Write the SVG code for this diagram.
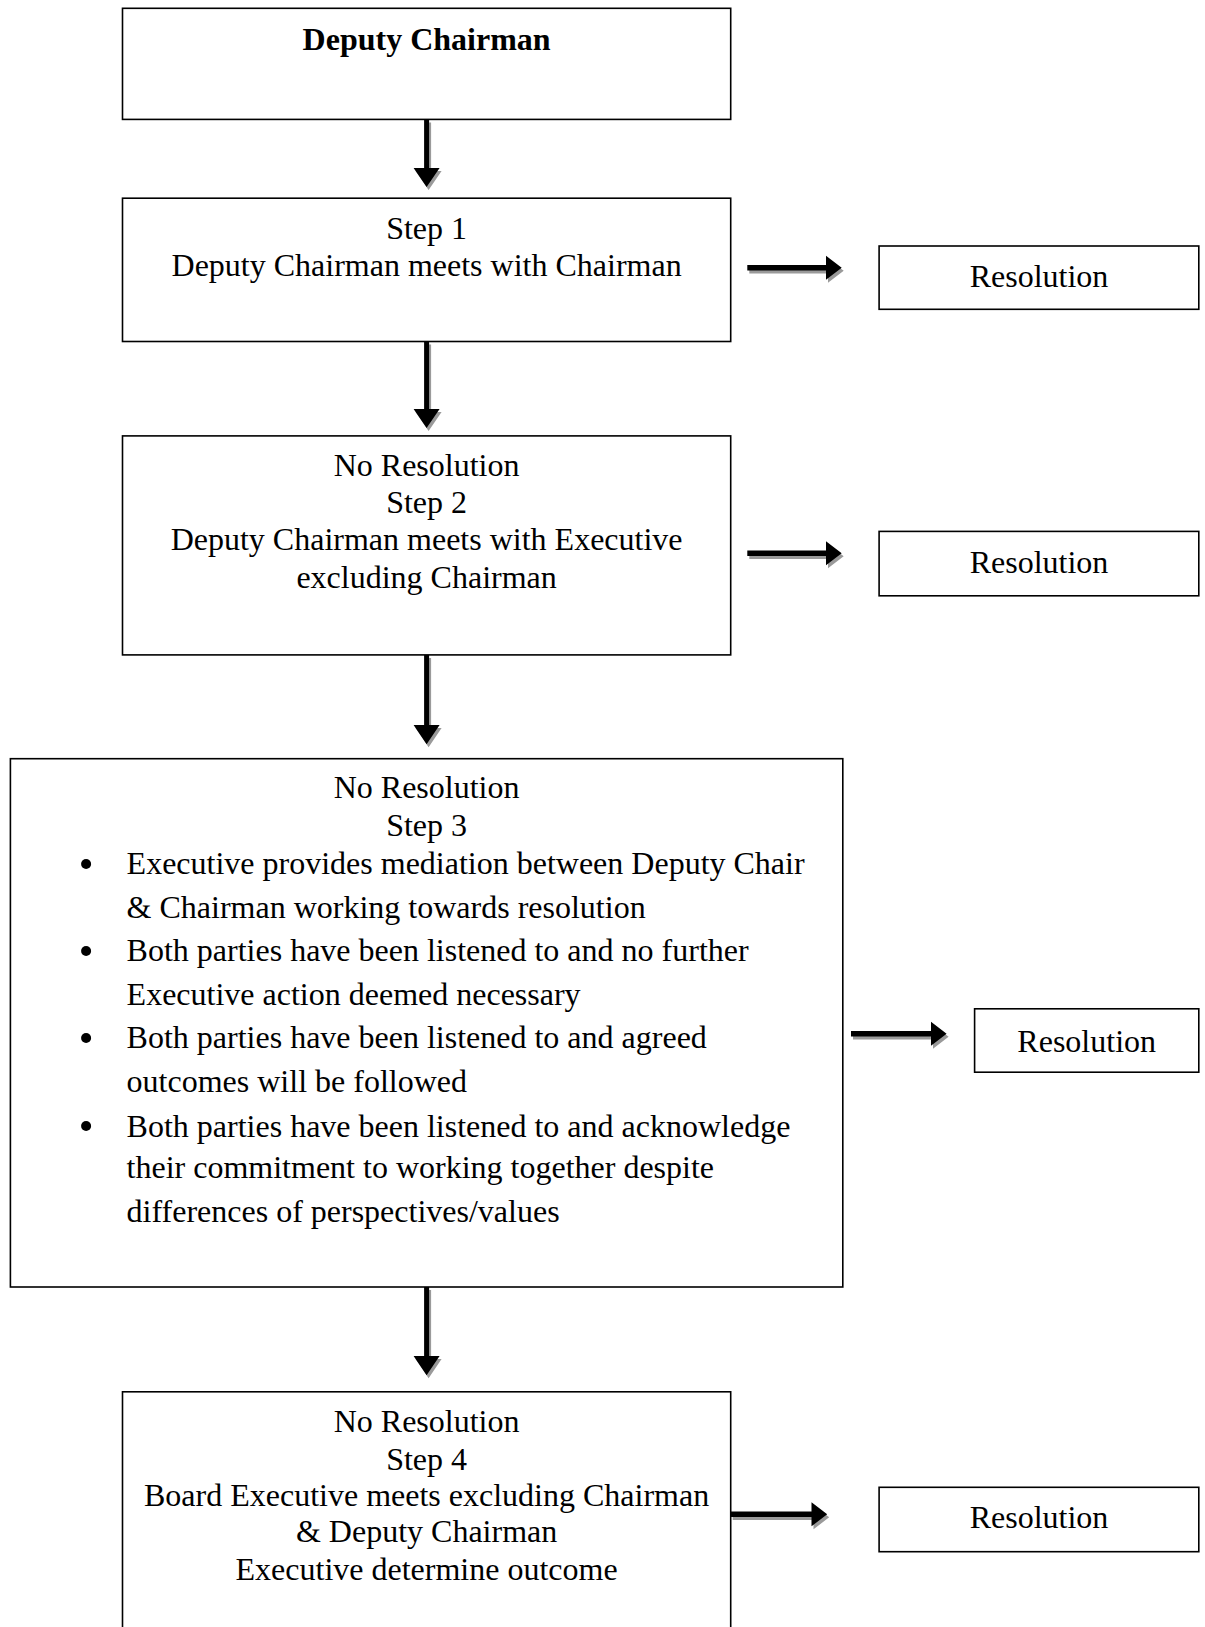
<svg xmlns="http://www.w3.org/2000/svg" width="1205" height="1627" viewBox="0 0 1205 1627">
<style>
rect.box{fill:#fff;stroke:#000;stroke-width:1.6}
text{font-family:"Liberation Serif","Times New Roman",serif;font-size:32px;fill:#000}
.c{text-anchor:middle}
.b{font-weight:bold}
.arr{fill:#000}
.sh{fill:#9a9a9a}
</style>
<rect width="1205" height="1627" fill="#fff"/>
<g id="connectors">
  <g transform="translate(2,3)" class="sh">
    <path d="M424.1,119.4H429.1V168H439.6L426.6,187L413.6,168H424.1Z"/>
    <path d="M424.1,341.5H429.1V409H439.6L426.6,428L413.6,409H424.1Z"/>
    <path d="M424.1,654.9H429.1V725H439.6L426.6,744.2L413.6,725H424.1Z"/>
    <path d="M424.1,1287H429.1V1356H439.6L426.6,1375.2L413.6,1356H424.1Z"/>
    <path d="M747.3,265H826V255.8L841.7,267.8L826,279.8V270.6H747.3Z"/>
    <path d="M747.3,550.4H826V541.2L841.7,553.2L826,565.2V556H747.3Z"/>
    <path d="M851,1031H931V1021.8L946.6,1033.8L931,1045.8V1036.6H851Z"/>
    <path d="M730.7,1511.5H811.5V1502.3L827.2,1514.3L811.5,1526.3V1517.1H730.7Z"/>
  </g>
  <g class="arr">
    <path d="M424.1,119.4H429.1V168H439.6L426.6,187L413.6,168H424.1Z"/>
    <path d="M424.1,341.5H429.1V409H439.6L426.6,428L413.6,409H424.1Z"/>
    <path d="M424.1,654.9H429.1V725H439.6L426.6,744.2L413.6,725H424.1Z"/>
    <path d="M424.1,1287H429.1V1356H439.6L426.6,1375.2L413.6,1356H424.1Z"/>
    <path d="M747.3,265H826V255.8L841.7,267.8L826,279.8V270.6H747.3Z"/>
    <path d="M747.3,550.4H826V541.2L841.7,553.2L826,565.2V556H747.3Z"/>
    <path d="M851,1031H931V1021.8L946.6,1033.8L931,1045.8V1036.6H851Z"/>
    <path d="M730.7,1511.5H811.5V1502.3L827.2,1514.3L811.5,1526.3V1517.1H730.7Z"/>
  </g>
</g>
<g id="deputy-chairman">
  <rect class="box" x="122.5" y="8.3" width="608.2" height="111.1"/>
  <text class="c b" x="426.6" y="50">Deputy Chairman</text>
</g>
<g id="step1">
  <rect class="box" x="122.5" y="198.2" width="608.2" height="143.3"/>
  <text class="c" x="426.6" y="238.8">Step 1</text>
  <text class="c" x="426.6" y="276.2">Deputy Chairman meets with Chairman</text>
</g>
<g id="resolution1">
  <rect class="box" x="879.1" y="246" width="319.7" height="63.3"/>
  <text class="c" x="1039" y="286.6">Resolution</text>
</g>
<g id="step2">
  <rect class="box" x="122.5" y="435.9" width="608.2" height="219"/>
  <text class="c" x="426.6" y="475.5">No Resolution</text>
  <text class="c" x="426.6" y="512.8">Step 2</text>
  <text class="c" x="426.6" y="550.2">Deputy Chairman meets with Executive</text>
  <text class="c" x="426.6" y="587.6">excluding Chairman</text>
</g>
<g id="resolution2">
  <rect class="box" x="879.1" y="531.4" width="319.7" height="64.4"/>
  <text class="c" x="1039" y="573">Resolution</text>
</g>
<g id="step3">
  <rect class="box" x="10.4" y="758.7" width="832.4" height="528.3"/>
  <text class="c" x="426.6" y="798.3">No Resolution</text>
  <text class="c" x="426.6" y="835.6">Step 3</text>
  <circle cx="86.1" cy="864" r="5"/>
  <circle cx="86.1" cy="951" r="5"/>
  <circle cx="86.1" cy="1038" r="5"/>
  <circle cx="86.1" cy="1126" r="5"/>
  <text x="126.6" y="874">Executive provides mediation between Deputy Chair</text>
  <text x="126.6" y="917.6">&amp; Chairman working towards resolution</text>
  <text x="126.6" y="961.2">Both parties have been listened to and no further</text>
  <text x="126.6" y="1004.8">Executive action deemed necessary</text>
  <text x="126.6" y="1048.4">Both parties have been listened to and agreed</text>
  <text x="126.6" y="1092">outcomes will be followed</text>
  <text x="126.6" y="1136.6">Both parties have been listened to and acknowledge</text>
  <text x="126.6" y="1178.1">their commitment to working together despite</text>
  <text x="126.6" y="1221.7">differences of perspectives/values</text>
</g>
<g id="resolution3">
  <rect class="box" x="974.6" y="1008.8" width="224.2" height="63.4"/>
  <text class="c" x="1086.7" y="1051.5">Resolution</text>
</g>
<g id="step4">
  <rect class="box" x="122.5" y="1391.8" width="608.2" height="260"/>
  <text class="c" x="426.6" y="1432.4">No Resolution</text>
  <text class="c" x="426.6" y="1469.8">Step 4</text>
  <text class="c" x="426.6" y="1506.1">Board Executive meets excluding Chairman</text>
  <text class="c" x="426.6" y="1542.4">&amp; Deputy Chairman</text>
  <text class="c" x="426.6" y="1579.8">Executive determine outcome</text>
</g>
<g id="resolution4">
  <rect class="box" x="879.1" y="1487.3" width="319.7" height="64.4"/>
  <text class="c" x="1039" y="1528">Resolution</text>
</g>
</svg>
